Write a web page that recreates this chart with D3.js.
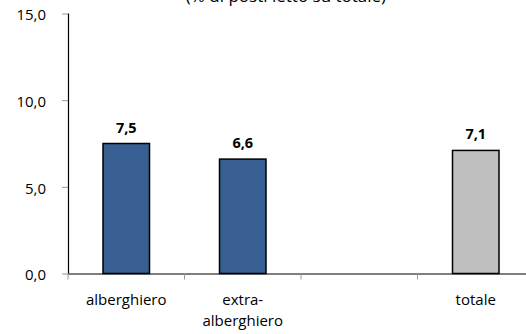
<!DOCTYPE html>
<html><head><meta charset="utf-8">
<script src="https://cdn.jsdelivr.net/npm/d3@7"></script>
<style>body{margin:0;background:#fff}svg{display:block}</style>
</head><body><svg id="c" width="526" height="334"></svg>
<script>
const categories = ["alberghiero", "extra-\nalberghiero", "", "totale"];
const values = [7.5, 6.6, null, 7.1];
const barColors = ["#375F91", "#375F91", null, "#BFBFBF"];
const valueLabels = ["7,5", "6,6", null, "7,1"];
const yTicks = [0, 5, 10, 15];
const yTickLabels = ["0,0", "5,0", "10,0", "15,0"];
const title = "(% di posti letto su totale)";

const svg = d3.select("#c");
const font = "Open Sans, sans-serif";
const x = d3.scaleBand().domain(d3.range(categories.length)).range([68, 534]).paddingInner(0).paddingOuter(0);
const y = d3.scaleLinear().domain([0, 15]).range([273.5, 13.5]);

svg.append("text").attr("x", 286).attr("y", 1.5).attr("text-anchor", "middle")
  .attr("font-family", font).attr("font-size", 17).attr("fill", "#000").text(title);

// y axis
const yAxis = svg.append("g").attr("transform", "translate(68,0)")
  .call(d3.axisLeft(y).tickValues(yTicks).tickFormat((d,i)=>yTickLabels[i]).tickSize(6).tickPadding(16));
yAxis.select(".domain").attr("stroke", "#000").attr("stroke-width", 1.2).attr("d", `M0.5,${y(15)}V${y(0)}`);
yAxis.selectAll(".tick line").attr("stroke", "#999").attr("x1", -6).attr("x2", 0);
yAxis.selectAll(".tick text").attr("font-family", font).attr("font-size", 15).attr("fill", "#000").attr("dy", "0.42em");

// bars
const bw = 46.5;
const idx = d3.range(categories.length).filter(i => values[i] != null);
svg.selectAll("rect.bar").data(idx).join("rect").attr("class","bar")
  .attr("x", i => x(i) + x.bandwidth()/2 - bw/2)
  .attr("y", i => y(values[i]))
  .attr("width", bw)
  .attr("height", i => y(0) - y(values[i]))
  .attr("fill", i => barColors[i]).attr("stroke", "#000").attr("stroke-width", 1.5);

svg.selectAll("text.val").data(idx).join("text").attr("class","val")
  .attr("x", i => x(i) + x.bandwidth()/2)
  .attr("y", i => y(values[i]) - 11)
  .attr("text-anchor", "middle").attr("font-family", font).attr("font-weight", "bold").attr("font-size", 14.5)
  .text(i => valueLabels[i]);

// x axis
const xAxis = svg.append("g").attr("transform", `translate(0,${y(0)})`);
xAxis.append("line").attr("x1", 68).attr("x2", 534).attr("y1", 0.5).attr("y2", 0.5).attr("stroke", "#000").attr("stroke-width", 1.2);
xAxis.selectAll("line.tk").data(d3.range(categories.length + 1)).join("line").attr("class","tk")
  .attr("x1", i => 68 + i * x.bandwidth()).attr("x2", i => 68 + i * x.bandwidth())
  .attr("y1", 0).attr("y2", 6).attr("stroke", "#999");
xAxis.selectAll("text.cat").data(d3.range(categories.length)).join("text").attr("class","cat")
  .attr("text-anchor", "middle").attr("font-family", font).attr("font-size", 15)
  .each(function(i){
    const lines = categories[i].split("\n");
    d3.select(this).selectAll("tspan").data(lines).join("tspan")
      .attr("x", x(i) + x.bandwidth()/2).attr("y", (d,j) => 31.5 + j * 20.5).text(d => d);
  });
</script></body></html>
